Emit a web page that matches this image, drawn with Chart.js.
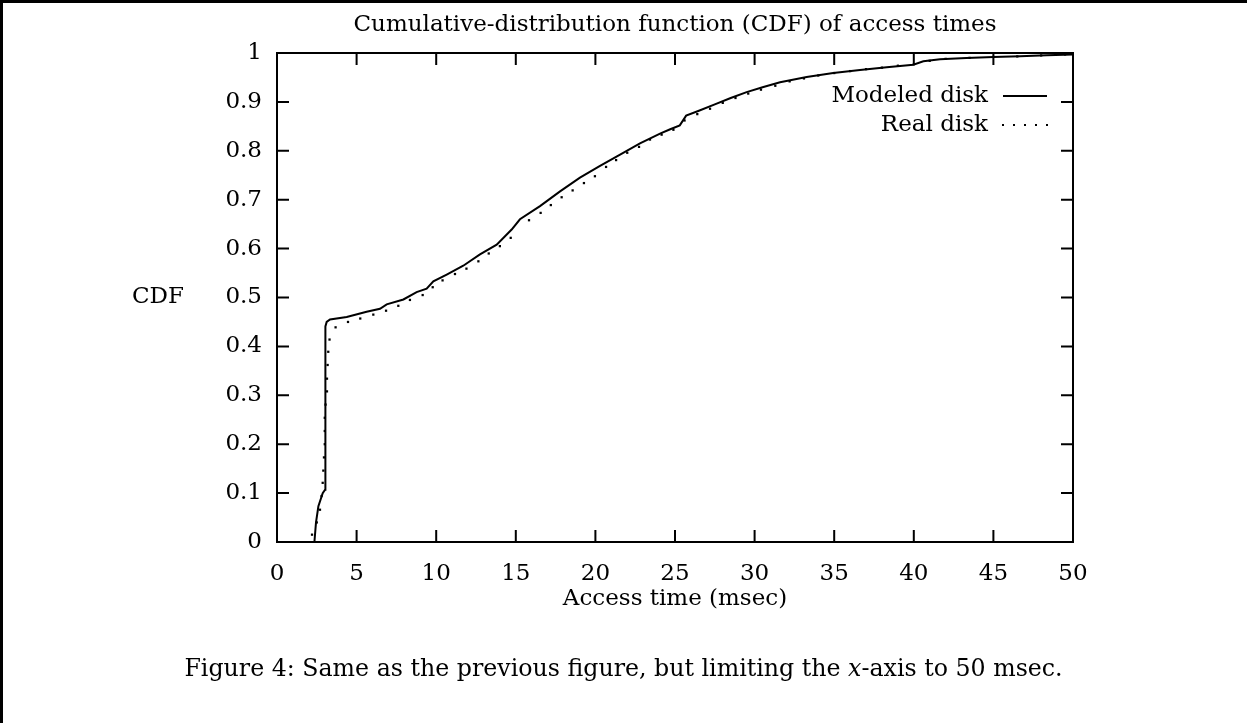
<!DOCTYPE html>
<html>
<head>
<meta charset="utf-8">
<script src="https://cdn.jsdelivr.net/npm/chart.js@4.4.0/dist/chart.umd.min.js"></script>
<style>
  body { margin: 0; background: #fff; }
  #wrap { position: relative; width: 1247px; height: 723px; overflow: hidden; }
  #frame { position: absolute; left: 0; top: 0; width: 1247px; height: 723px;
           border-left: 3px solid #000; border-top: 3px solid #000; box-sizing: border-box; pointer-events: none; }
  #caption { position: absolute; left: 0; width: 1247px; top: 654px; text-align: center;
             font-family: 'DejaVu Serif', serif; font-size: 23.7px; color: #000; }
</style>
</head>
<body>
<div id="wrap">
  <canvas id="myChart" width="1247" height="723"></canvas>
  <div id="frame"></div>
  <div id="caption">Figure 4: Same as the previous figure, but limiting the <i>x</i>-axis to 50 msec.</div>
</div>
<script>
// Modeled disk (solid line)
const modeledTime = [2.35, 2.45, 2.6, 2.87, 3.02, 3.04, 3.12, 3.33, 4.38, 5.63, 6.47, 6.89, 7.94, 8.77, 9.4, 9.82,
  10.66, 11.7, 12.75, 13.8, 14.74, 15.26, 16.52, 17.78, 19.03, 20.29, 21.55, 22.8, 24.06, 24.7, 25.3, 25.7,
  26.5, 27.5, 28.5, 29.5, 30.5, 31.6, 33.27, 34.94, 36.62, 38.3, 39.97, 40.6, 41.65, 43.3, 45.0, 46.67, 48.35, 50];
const modeledCdf = [0, 0.04, 0.073, 0.10, 0.107, 0.441, 0.45, 0.455, 0.46, 0.471, 0.477, 0.486, 0.496, 0.511, 0.518, 0.533,
  0.547, 0.565, 0.588, 0.608, 0.639, 0.66, 0.687, 0.717, 0.745, 0.769, 0.792, 0.815, 0.835, 0.844, 0.852, 0.872,
  0.882, 0.895, 0.908, 0.92, 0.93, 0.940, 0.951, 0.959, 0.965, 0.971, 0.976, 0.983, 0.987, 0.990, 0.992, 0.9935, 0.9955, 0.997];

// Real disk (dots)
const realTime = [2.2, 2.5, 2.7, 2.8, 2.87, 2.91, 2.95, 3.0, 3.0, 3.0, 3.05, 3.14, 3.14, 3.18, 3.22, 3.3, 3.68,
  4.46, 5.23, 6.05, 6.85, 7.62, 8.35, 9.15, 9.78, 10.4, 11.18, 11.9, 12.65, 13.3, 14.0, 14.68, 15.83, 16.56,
  17.2, 17.88, 18.57, 19.28, 19.97, 20.67, 21.3, 22.0, 22.74, 23.43, 24.16, 24.9, 25.6, 26.4, 27.2, 28.0,
  28.8, 29.6, 30.4, 31.3, 32.2, 33.1, 34, 35, 36, 37, 38, 39, 40, 41, 42, 43.5, 45, 46.5, 48, 49.5];
const realCdf = [0.015, 0.04, 0.066, 0.094, 0.121, 0.146, 0.173, 0.2, 0.227, 0.254, 0.281, 0.308, 0.334, 0.362, 0.389, 0.414, 0.439,
  0.45, 0.457, 0.465, 0.473, 0.483, 0.495, 0.505, 0.521, 0.535, 0.548, 0.559, 0.574, 0.59, 0.605, 0.622, 0.658, 0.673,
  0.689, 0.705, 0.719, 0.734, 0.748, 0.767, 0.781, 0.796, 0.808, 0.823, 0.833, 0.843, 0.862, 0.875, 0.886, 0.898,
  0.908, 0.917, 0.925, 0.933, 0.942, 0.948, 0.954, 0.959, 0.963, 0.967, 0.97, 0.974, 0.977, 0.984, 0.988, 0.99, 0.992, 0.993, 0.995, 0.997];

const xTicks = [0, 5, 10, 15, 20, 25, 30, 35, 40, 45, 50];
const yTicks = [0, 0.1, 0.2, 0.3, 0.4, 0.5, 0.6, 0.7, 0.8, 0.9, 1];

const FONT = "'DejaVu Serif', serif";
const FSIZE = 23;

const toPoints = (xs, ys) => xs.map((x, i) => ({x: x, y: ys[i]}));

// gnuplot style frame, inward ticks on all four sides, legend and the CDF label
const gnuplotLook = {
  id: 'gnuplotLook',
  afterDatasetsDraw(chart) {
    const {ctx, chartArea: a, scales} = chart;
    ctx.save();
    ctx.strokeStyle = '#000';
    ctx.lineWidth = 2;
    ctx.strokeRect(a.left, a.top, a.right - a.left, a.bottom - a.top);
    const len = 12;
    ctx.beginPath();
    xTicks.forEach(v => {
      const px = scales.x.getPixelForValue(v);
      ctx.moveTo(px, a.bottom); ctx.lineTo(px, a.bottom - len);
      ctx.moveTo(px, a.top); ctx.lineTo(px, a.top + len);
    });
    yTicks.forEach(v => {
      const py = scales.y.getPixelForValue(v);
      ctx.moveTo(a.left, py); ctx.lineTo(a.left + len, py);
      ctx.moveTo(a.right, py); ctx.lineTo(a.right - len, py);
    });
    ctx.stroke();

    // legend
    ctx.fillStyle = '#000';
    ctx.font = FSIZE + 'px ' + FONT;
    ctx.textAlign = 'right';
    ctx.textBaseline = 'middle';
    const tx = a.right - 85, y1 = a.top + 43, y2 = a.top + 72;
    ctx.fillText('Modeled disk', tx, y1);
    ctx.fillText('Real disk', tx, y2);
    ctx.beginPath();
    ctx.moveTo(a.right - 70, y1); ctx.lineTo(a.right - 26, y1);
    ctx.stroke();
    for (let i = 0; i < 5; i++) {
      ctx.fillRect(a.right - 71 + i * 11, y2 - 1, 2, 2);
    }

    // y axis label, horizontal like gnuplot
    ctx.textAlign = 'center';
    ctx.fillText('CDF', 158, (a.top + a.bottom) / 2);
    ctx.restore();
  }
};

const ctx = document.getElementById('myChart').getContext('2d');
const myChart = new Chart(ctx, {
  type: 'scatter',
  plugins: [gnuplotLook],
  data: {
    datasets: [
      {
        label: 'Modeled disk',
        data: toPoints(modeledTime, modeledCdf),
        showLine: true,
        borderColor: '#000',
        backgroundColor: '#000',
        borderWidth: 2,
        pointRadius: 0,
        tension: 0
      },
      {
        label: 'Real disk',
        data: toPoints(realTime, realCdf),
        showLine: false,
        borderColor: '#000',
        backgroundColor: '#000',
        pointStyle: 'rect',
        pointRadius: 1.6,
        borderWidth: 0
      }
    ]
  },
  options: {
    responsive: false,
    animation: false,
    layout: { padding: { left: 0, right: 174, top: 0, bottom: 112 } },
    plugins: {
      legend: { display: false },
      tooltip: { enabled: false },
      title: {
        display: true,
        fullSize: false,
        text: 'Cumulative-distribution function (CDF) of access times',
        color: '#000',
        font: { family: FONT, size: FSIZE, weight: 'normal', lineHeight: 1 },
        padding: { top: 14, bottom: 16 }
      }
    },
    scales: {
      x: {
        type: 'linear',
        min: 0,
        max: 50,
        grid: { display: false, drawTicks: false },
        border: { display: false },
        afterBuildTicks: s => { s.ticks = xTicks.map(v => ({value: v})); },
        ticks: { color: '#000', padding: 21, maxRotation: 0, font: { family: FONT, size: FSIZE, lineHeight: 1 } },
        title: {
          display: true,
          text: 'Access time (msec)',
          color: '#000',
          padding: { top: -19, bottom: 0 },
          font: { family: FONT, size: FSIZE, lineHeight: 1 }
        }
      },
      y: {
        min: 0,
        max: 1,
        grid: { display: false, drawTicks: false },
        border: { display: false },
        afterBuildTicks: s => { s.ticks = yTicks.map(v => ({value: v})); },
        afterFit: s => { s.width = 277; },
        ticks: { color: '#000', padding: 15, font: { family: FONT, size: FSIZE, lineHeight: 1 },
                 callback: v => String(v) }
      }
    }
  }
});
</script>
</body>
</html>
